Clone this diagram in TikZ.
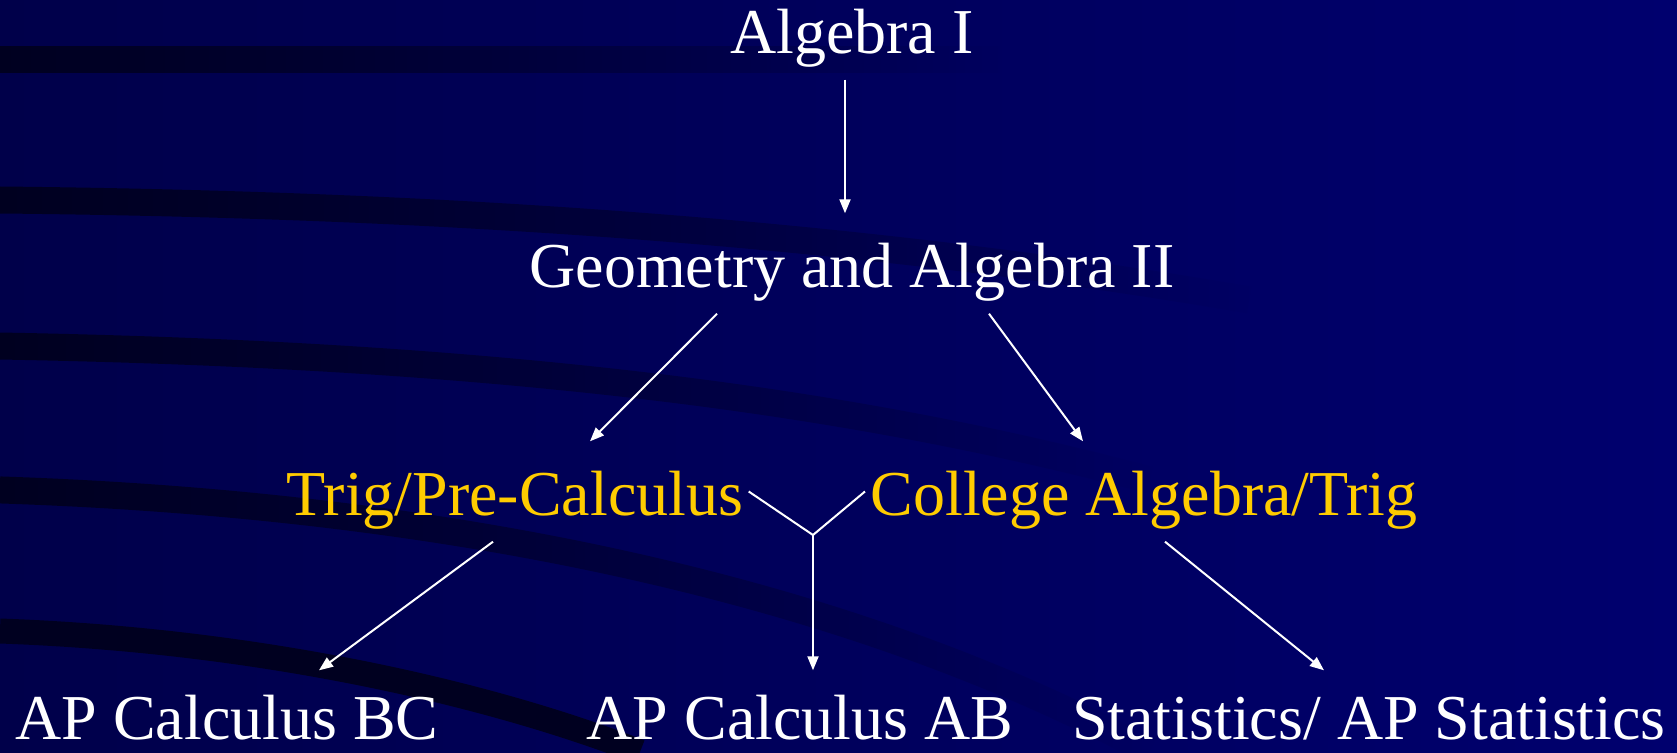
\documentclass[tikz,border=0pt]{standalone}
\usepackage{fontspec}
\setmainfont{Liberation Serif}
\usetikzlibrary{arrows.meta, fadings}

\definecolor{navyleft}{HTML}{00004A}
\definecolor{navyright}{HTML}{00006E}
\definecolor{stripe}{HTML}{000020}
\definecolor{gold}{HTML}{FFCC00}
\tikzfading[name=fade right, left color=transparent!0, right color=transparent!100]

\begin{document}
\begin{tikzpicture}[x=0.1mm, y=-0.1mm,
  course/.style={font=\fontsize{18.2}{22}\selectfont, text=white, anchor=base,
    inner xsep=0.5mm, inner ysep=0pt, text height=7.3mm, text depth=2.6mm},
  option/.style={course, text=gold},
  goal/.style={course, text height=6.8mm, text depth=0.5mm},
  arr/.style={draw=white, line width=0.2mm, -{Triangle[length=1.4mm, width=1.1mm]}},
  band/.style={draw=stripe, line width=2.7mm, path fading=fade right}]
  \useasboundingbox (0,0) rectangle (1677,752);

  % Background: navy shade with dark curved bands on the left.
  \shade[left color=navyleft, right color=navyright] (0,0) rectangle (1677,752);
  \draw[band] (0,59) -- (1000,59);
  \draw[band] (0,200) .. controls (500,205) and (900,240) .. (1250,300);
  \draw[band] (0,346) .. controls (500,355) and (850,400) .. (1150,480);
  \draw[band] (0,490) .. controls (450,505) and (850,590) .. (1150,752);
  \draw[draw=stripe, line width=2.5mm] (0,631) .. controls (250,640) and (480,690) .. (640,752);

  \node[course] (alg1) at (852,53) {Algebra I};
  \node[course] (geo) at (852,287) {Geometry and Algebra II};
  \node[option] (trig) at (515,515) {Trig/Pre-Calculus};
  \node[option] (coll) at (1144,515) {College Algebra/Trig};
  \node[goal] (bc) at (227,739) {AP Calculus BC};
  \node[goal] (ab) at (800,739) {AP Calculus AB};
  \node[goal] (stat) at (1369,739) {Statistics/ AP Statistics};
  \coordinate (join) at (813,535);

  \draw[arr] ([xshift=-0.7mm]alg1.south) -- ([xshift=-0.7mm]geo.north);
  \draw[arr] ([xshift=-13.5mm]geo.south) -- ([xshift=7.5mm]trig.north);
  \draw[arr] ([xshift=13.7mm]geo.south) -- ([xshift=-6.1mm]coll.north);
  \draw[arr] ([xshift=-2.2mm]trig.south) -- ([xshift=9.2mm]bc.north);
  \draw[arr] ([xshift=2.1mm]coll.south) -- ([xshift=-4.5mm]stat.north);
  \draw[draw=white, line width=0.2mm] (trig.east) -- (join) -- (coll.west);
  \draw[arr] (join) -- (join |- ab.north);
\end{tikzpicture}
\end{document}
